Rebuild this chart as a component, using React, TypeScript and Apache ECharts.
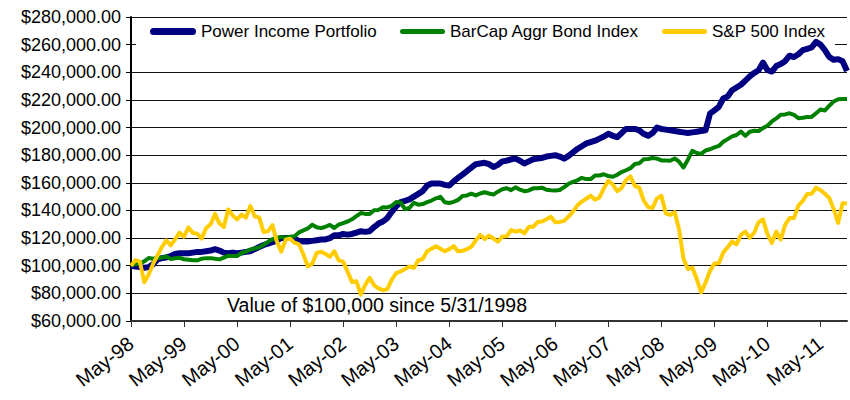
import React, { useEffect, useRef } from "react";
import * as echarts from "echarts";

const MONTHS = ["Jan", "Feb", "Mar", "Apr", "May", "Jun", "Jul", "Aug", "Sep", "Oct", "Nov", "Dec"];
const START_MONTH = 4; // May
const START_YEAR = 1998;
const N_MONTHS = 163; // May-98 .. Nov-11

const categories: string[] = [];
for (let i = 0; i < N_MONTHS; i++) {
  const m = START_MONTH + i;
  const y = START_YEAR + Math.floor(m / 12);
  categories.push(`${MONTHS[m % 12]}-${String(y % 100).padStart(2, "0")}`);
}

// values in thousands of dollars, monthly from May-98
const powerIncomeK = [
  100, 99.5, 99, 98.5, 99, 101, 104.5, 105.5, 106, 107,
  108.5, 109, 109, 109, 109.5, 110, 110, 110.5, 111, 112,
  111, 109.5, 109, 109.5, 109, 109.5, 110, 110.5, 112, 113.5,
  115, 116, 117, 118.5, 120, 120, 120, 119.5, 118, 117.5,
  117.5, 118, 118.5, 119, 119, 120, 122, 122, 123, 122.5,
  123, 124, 125, 124.5, 125, 128, 130.5, 132, 134.5, 139,
  143, 146, 147, 148, 150, 152, 154, 158, 159.5, 159.5,
  159.5, 158.5, 158, 161, 163.5, 166, 168.5, 171, 173.5, 174,
  174.5, 173.5, 171.5, 173, 175.5, 176, 177, 177.5, 176, 174,
  175.5, 177, 177.5, 178, 179, 179.5, 180, 179, 177.5, 179.5,
  182, 184.5, 186.5, 188.5, 189.5, 190.5, 192, 193.5, 195.5, 194,
  193, 196, 199, 199, 199, 198, 195.5, 194, 196, 200,
  199, 198.5, 198, 197.5, 197, 196.5, 196, 196.5, 197, 197.5,
  198, 210, 212.5, 215, 221, 222.5, 227, 229, 231, 234,
  237, 239.5, 241.5, 247, 241.5, 240.5, 244.5, 246, 248, 252,
  251, 253, 256, 257, 258, 262, 260, 256, 251, 249,
  249.5, 248, 241,
];

const barCapK = [
  100, 101.3, 101.5, 103.2, 105.6, 105.0, 105.6, 105.9, 106.7, 104.8,
  105.4, 105.7, 104.7, 104.4, 104.0, 103.9, 105.1, 105.5, 105.5, 105.0,
  104.6, 105.9, 107.3, 107.0, 107.0, 109.2, 110.2, 111.8, 112.5, 113.3,
  115.1, 117.3, 119.2, 120.2, 120.8, 120.3, 121.0, 121.4, 124.1, 125.6,
  127.0, 129.7, 127.9, 127.2, 128.2, 129.5, 127.3, 129.8, 130.9, 132.0,
  133.6, 135.9, 138.1, 137.5, 137.4, 140.2, 140.4, 142.3, 142.2, 143.4,
  146.1, 145.8, 140.9, 141.8, 145.6, 144.2, 144.6, 146.0, 147.2, 148.8,
  149.9, 146.0, 145.4, 146.2, 147.6, 150.5, 150.9, 152.1, 150.9, 152.3,
  153.2, 152.3, 151.5, 153.6, 155.3, 156.1, 154.7, 156.7, 155.1, 153.9,
  154.5, 156.0, 156.0, 156.5, 155.0, 154.7, 154.5, 154.8, 156.9, 159.3,
  160.7, 161.8, 163.6, 162.7, 162.7, 165.3, 165.3, 166.2, 164.9, 164.4,
  165.8, 167.8, 169.1, 170.6, 173.6, 174.1, 177.1, 177.3, 177.9, 177.5,
  176.2, 176.1, 176.0, 177.6, 175.3, 171.1, 176.7, 183.2, 181.6, 180.9,
  183.4, 184.3, 185.7, 186.7, 189.7, 191.6, 193.6, 194.6, 197.1, 194.0,
  197.0, 197.7, 197.5, 199.6, 201.3, 204.4, 206.6, 209.3, 209.5, 210.3,
  209.1, 206.8, 207.1, 207.6, 207.7, 210.3, 213.0, 212.4, 215.8, 218.9,
  220.5, 220.7, 220.6,
];

const sp500K = [
  100, 104.1, 103.0, 88.1, 93.7, 101.3, 107.5, 113.7, 118.4, 114.7,
  119.3, 123.9, 121.0, 127.7, 123.7, 123.1, 119.7, 127.3, 129.9, 137.5,
  130.6, 128.1, 140.7, 136.4, 133.6, 136.9, 134.8, 143.2, 135.6, 135.0,
  124.4, 125.0, 129.4, 117.6, 110.2, 118.8, 119.6, 116.7, 115.5, 108.3,
  99.5, 101.4, 109.2, 110.2, 108.6, 106.5, 110.5, 103.8, 103.0, 95.7,
  88.2, 88.8, 79.1, 86.1, 91.2, 85.8, 83.6, 82.3, 83.1, 90.0,
  94.7, 95.9, 97.6, 99.5, 98.4, 104.0, 104.9, 110.4, 112.4, 114.0,
  112.3, 110.5, 112.0, 114.2, 110.4, 110.8, 112.0, 113.7, 118.3, 122.3,
  119.3, 121.8, 119.7, 117.4, 121.1, 121.3, 125.8, 124.6, 125.6, 123.5,
  128.2, 128.2, 131.6, 132.0, 133.6, 135.4, 131.5, 131.7, 132.5, 135.6,
  139.1, 143.7, 146.4, 148.5, 150.7, 147.8, 149.4, 156.0, 161.5, 158.8,
  153.9, 156.2, 162.0, 164.6, 157.7, 156.6, 147.2, 142.4, 141.8, 148.7,
  150.6, 137.9, 136.8, 138.8, 126.4, 105.2, 97.6, 98.7, 90.4, 80.7,
  87.8, 96.2, 101.6, 101.8, 109.5, 113.4, 117.6, 115.4, 122.3, 124.7,
  120.2, 123.9, 131.4, 133.5, 122.8, 116.4, 124.6, 119.0, 129.6, 134.5,
  134.5, 143.5, 146.9, 151.9, 152.0, 156.5, 154.7, 152.1, 149.0, 140.9,
  131.0, 145.3, 145.0,
];

const SERIES_NAMES = ["Power Income Portfolio", "BarCap Aggr Bond Index", "S&P 500 Index"];
const SERIES_COLORS = ["#000080", "#008000", "#FFCC00"];
const ANNOTATION = "Value of $100,000 since 5/31/1998";

const FONT = '"Liberation Sans", Arial, Helvetica, sans-serif';

function capsule(w: number, h: number): string {
  const r = h / 2;
  return `path://M${r},0 L${w - r},0 A${r},${r} 0 0 1 ${w - r},${h} L${r},${h} A${r},${r} 0 0 1 ${r},0 Z`;
}

function fmtMoney(v: number): string {
  const s = Math.round(v).toString().replace(/\B(?=(\d{3})+(?!\d))/g, ",");
  return "$" + s + ".00";
}

export default function App() {
  const ref = useRef<HTMLDivElement>(null);

  useEffect(() => {
    if (!ref.current) return;
    const chart = echarts.init(ref.current, undefined, { renderer: "svg" });
    const toDollars = (arr: number[]) => arr.map((v) => v * 1000);
    const legendCfg = [
      { left: 150, w: 46, h: 7 },
      { left: 400, w: 45, h: 5 },
      { left: 662, w: 45, h: 5 },
    ];
    const option: any = {
      animation: false,
      grid: { left: 131, right: 3, top: 17, bottom: 79, containLabel: false },
      legend: SERIES_NAMES.map((name, k) => ({
        data: [name],
        left: legendCfg[k].left,
        top: 23,
        padding: 0,
        itemWidth: legendCfg[k].w,
        itemHeight: legendCfg[k].h,
        icon: capsule(legendCfg[k].w, legendCfg[k].h),
        selectedMode: false,
        textStyle: { fontFamily: FONT, fontSize: 17, color: "#000" },
      })),
      xAxis: {
        type: "category",
        data: categories,
        boundaryGap: false,
        axisLine: { lineStyle: { color: "#333", width: 2 } },
        axisTick: { interval: 11, length: 6, lineStyle: { color: "#333", width: 1 } },
        axisLabel: {
          interval: 11,
          rotate: 38,
          margin: 20,
          fontFamily: FONT,
          fontSize: 20,
          color: "#000",
        },
        splitLine: { show: false },
      },
      yAxis: {
        type: "value",
        min: 60000,
        max: 280000,
        interval: 20000,
        axisLine: { show: true, lineStyle: { color: "#000", width: 2 } },
        axisTick: { show: true, length: 5, lineStyle: { color: "#000" } },
        axisLabel: {
          formatter: (v: number) => fmtMoney(v),
          margin: 10,
          fontFamily: FONT,
          fontSize: 18,
          color: "#000",
        },
        splitLine: { lineStyle: { color: "#111", width: 1 } },
      },
      graphic: [
        {
          type: "rect",
          z: 1,
          silent: true,
          shape: { x: 136, y: 23, width: 699, height: 28 },
          style: { fill: "#ffffff" },
        },
        {
          type: "text",
          z: 5,
          x: 377,
          y: 305,
          style: {
            text: ANNOTATION,
            fontFamily: FONT,
            fontSize: 19.5,
            fill: "#000",
            textAlign: "center",
            textVerticalAlign: "middle",
          },
        },
      ],
      series: [
        {
          name: SERIES_NAMES[0],
          type: "line",
          data: toDollars(powerIncomeK),
          showSymbol: false,
          symbol: "none",
          color: SERIES_COLORS[0],
          lineStyle: { width: 6, color: SERIES_COLORS[0], join: "round" },
          z: 2,
        },
        {
          name: SERIES_NAMES[1],
          type: "line",
          data: toDollars(barCapK),
          showSymbol: false,
          symbol: "none",
          color: SERIES_COLORS[1],
          lineStyle: { width: 4, color: SERIES_COLORS[1], join: "round" },
          z: 3,
        },
        {
          name: SERIES_NAMES[2],
          type: "line",
          data: toDollars(sp500K),
          showSymbol: false,
          symbol: "none",
          color: SERIES_COLORS[2],
          lineStyle: { width: 4, color: SERIES_COLORS[2], join: "round" },
          z: 4,
        },
      ],
    };
    chart.setOption(option);
    return () => chart.dispose();
  }, []);

  return (
    <div
      ref={ref}
      style={{ position: "fixed", left: 0, top: 0, width: 850, height: 400, background: "#fff" }}
    />
  );
}
